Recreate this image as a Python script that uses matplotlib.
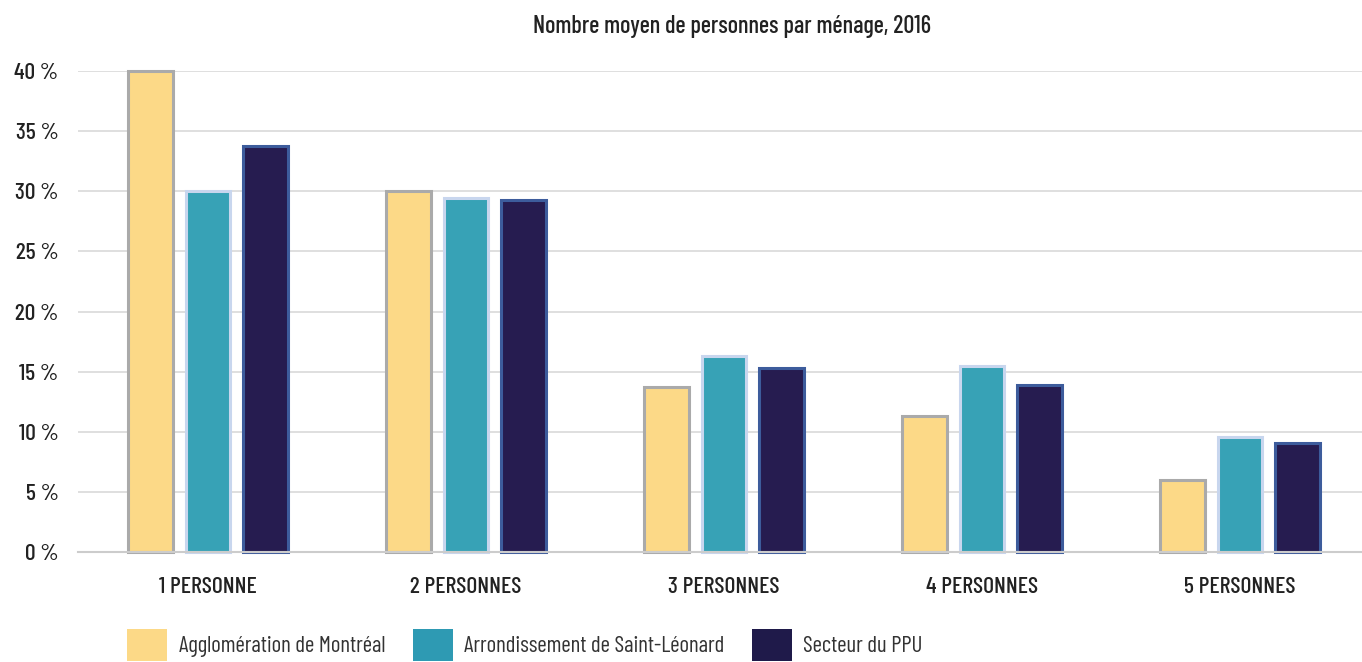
import numpy as np
import matplotlib
matplotlib.use("Agg")
import matplotlib.pyplot as plt
from matplotlib.patches import Patch

plt.rcParams["font.family"] = ["Barlow Condensed", "DejaVu Sans"]

categories = ["1 PERSONNE", "2 PERSONNES", "3 PERSONNES", "4 PERSONNES", "5 PERSONNES"]
series = ["Agglomération de Montréal", "Arrondissement de Saint-Léonard", "Secteur du PPU"]
montreal = [40.0, 30.0, 13.7, 11.3, 6.0]
st_leonard = [30.0, 29.4, 16.3, 15.5, 9.6]
ppu = [33.8, 29.3, 15.3, 13.9, 9.1]
yticks = [0, 5, 10, 15, 20, 25, 30, 35, 40]

fills = ["#fcd987", "#37a2b6", "#261c50"]
edges = ["#aaaaaa", "#c8d6ee", "#3d5c9c"]
legend_cols = ["#fcd987", "#2e9ab3", "#1f1a4a"]

fig = plt.figure(figsize=(13.62, 6.62), dpi=100)
ax = fig.add_axes([78/1362, 1-552/662, 1-78/1362, (552-71)/662])

x = np.arange(len(categories))
w = 0.172
off = 0.223
for k, vals in enumerate([montreal, st_leonard, ppu]):
    ax.bar(x + (k-1)*off, vals, width=w, color=fills[k], edgecolor=edges[k],
           linewidth=2.2, zorder=3, clip_on=False)

ax.set_ylim(0, 40)
ax.set_xlim(-0.504, 4.473)
ax.set_yticks(yticks)
ax.set_yticklabels([f"{t} %" for t in yticks], fontweight="medium")
ax.set_xticks(x)
ax.set_xticklabels(categories, fontweight="medium")
ax.grid(axis="y", color="#d9d9d9", lw=1.2, zorder=0)
for s in ["top", "right", "left"]:
    ax.spines[s].set_visible(False)
ax.spines["bottom"].set_color("#cccccc")
ax.spines["bottom"].set_linewidth(1.5)
ax.spines["bottom"].set_zorder(4)
ax.tick_params(length=0, labelsize=17, colors="#222222")
ax.tick_params(axis="x", pad=18)
ax.tick_params(axis="y", pad=14)

fig.text(732/1362, 1-27/662, "Nombre moyen de personnes par ménage, 2016",
         ha="center", va="center", fontsize=17.5, color="#222222", fontweight="medium")

handles = [Patch(facecolor=c, edgecolor="none") for c in legend_cols]
fig.legend(handles, series, loc="center left", bbox_to_anchor=(127/1362, 1-645/662),
           ncol=3, frameon=False, fontsize=16.5, handlelength=1.75, handleheight=1.75,
           handletextpad=0.5, columnspacing=1.2, borderpad=0, borderaxespad=0,
           labelcolor="#333333")

fig.savefig("out.png", dpi=100)
